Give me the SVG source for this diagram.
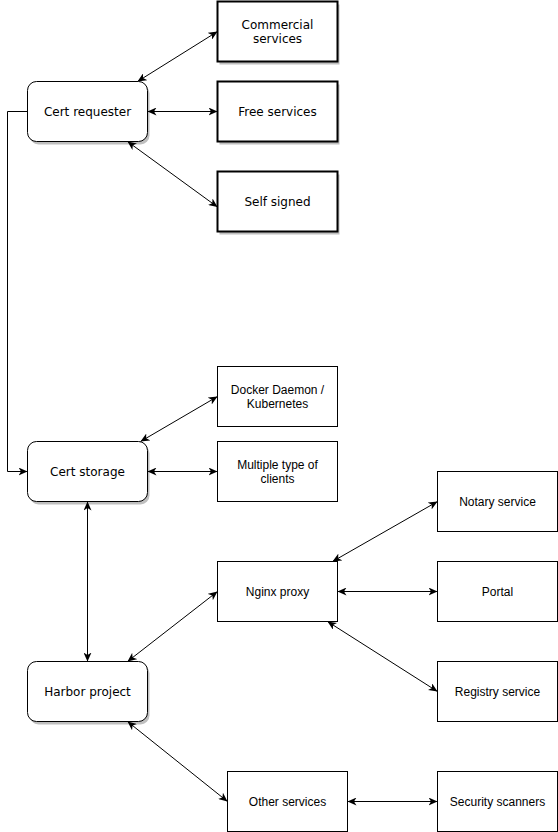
<svg xmlns="http://www.w3.org/2000/svg" width="558" height="832" viewBox="0 0 558 832">
<style>
.box{fill:#fff;stroke:#000;stroke-width:1}
.thick{fill:#fff;stroke:#000;stroke-width:2}
.shadow{fill:#000;opacity:0.25}
.dv{font-family:"DejaVu Sans",sans-serif;font-size:12px;fill:#000;text-anchor:middle;dominant-baseline:central}
.ls{font-family:"Liberation Sans",Arial,sans-serif;font-size:12px;fill:#000;text-anchor:middle;dominant-baseline:central}
.edge{fill:none;stroke:#000;stroke-width:1;marker-start:url(#arr);marker-end:url(#arr)}
</style>
<defs>
<marker id="arr" viewBox="0 0 10 8" refX="9" refY="4" markerWidth="10" markerHeight="8" markerUnits="userSpaceOnUse" orient="auto-start-reverse">
<path d="M0,0 L9,4 L0,8 L2.5,4 Z" fill="#000"/>
</marker>
<marker id="arrEnd" viewBox="0 0 10 8" refX="9" refY="4" markerWidth="10" markerHeight="8" markerUnits="userSpaceOnUse" orient="auto">
<path d="M0,0 L9,4 L0,8 L2.5,4 Z" fill="#000"/>
</marker>
</defs>
<rect width="558" height="832" fill="#fff"/>
<g id="connectors">
<path class="edge" d="M137.5,81.5 L217.5,31.5"/>
<path class="edge" d="M147.5,111.5 L217.5,111.5"/>
<path class="edge" d="M127.5,141.5 L217.5,207"/>
<path d="M27.5,111.5 L7.5,111.5 L7.5,471.5 L27.5,471.5" fill="none" stroke="#000" marker-end="url(#arrEnd)"/>
<path class="edge" d="M140.5,441.5 L217.5,396.5"/>
<path class="edge" d="M147.5,471.5 L217.5,471.5"/>
<path class="edge" d="M87.5,501.5 L87.5,661.5"/>
<path class="edge" d="M127.5,661.5 L217.5,591.5"/>
<path class="edge" d="M332.5,561.5 L437.5,501.5"/>
<path class="edge" d="M337.5,591.5 L437.5,591.5"/>
<path class="edge" d="M327.5,621.5 L437.5,691.5"/>
<path class="edge" d="M127.5,721.5 L227.5,801.5"/>
<path class="edge" d="M347.5,801.5 L437.5,801.5"/>
</g>
<g id="cert-requester">
<rect class="shadow" x="29.5" y="84.5" width="120" height="60" rx="9"/>
<rect class="box" x="27.5" y="81.5" width="120" height="60" rx="9"/>
<text class="dv" x="87.5" y="111.5">Cert requester</text>
</g>
<g id="commercial-services">
<rect class="shadow" x="219.5" y="4.5" width="120" height="60"/>
<rect class="thick" x="217.5" y="1.5" width="120" height="60"/>
<text class="dv" x="277.5" y="25">Commercial</text>
<text class="dv" x="277.5" y="39">services</text>
</g>
<g id="free-services">
<rect class="shadow" x="219.5" y="84.5" width="120" height="60"/>
<rect class="thick" x="217.5" y="81.5" width="120" height="60"/>
<text class="dv" x="277.5" y="111.5">Free services</text>
</g>
<g id="self-signed">
<rect class="shadow" x="219.5" y="174.5" width="120" height="60"/>
<rect class="thick" x="217.5" y="171.5" width="120" height="60"/>
<text class="dv" x="277.5" y="201.5">Self signed</text>
</g>
<g id="cert-storage">
<rect class="shadow" x="29.5" y="444.5" width="120" height="60" rx="9"/>
<rect class="box" x="27.5" y="441.5" width="120" height="60" rx="9"/>
<text class="dv" x="87.5" y="471.5">Cert storage</text>
</g>
<g id="docker-daemon">
<rect class="box" x="217.5" y="366.5" width="120" height="60"/>
<text class="ls" x="277.5" y="390">Docker Daemon /</text>
<text class="ls" x="277.5" y="404">Kubernetes</text>
</g>
<g id="multiple-clients">
<rect class="box" x="217.5" y="441.5" width="120" height="60"/>
<text class="ls" x="277.5" y="465">Multiple type of</text>
<text class="ls" x="277.5" y="479">clients</text>
</g>
<g id="harbor-project">
<rect class="shadow" x="29.5" y="664.5" width="120" height="60" rx="9"/>
<rect class="box" x="27.5" y="661.5" width="120" height="60" rx="9"/>
<text class="dv" x="87.5" y="691.5">Harbor project</text>
</g>
<g id="nginx-proxy">
<rect class="box" x="217.5" y="561.5" width="120" height="60"/>
<text class="ls" x="277.5" y="591.5">Nginx proxy</text>
</g>
<g id="notary-service">
<rect class="box" x="437.5" y="471.5" width="120" height="60"/>
<text class="ls" x="497.5" y="501.5">Notary service</text>
</g>
<g id="portal">
<rect class="box" x="437.5" y="561.5" width="120" height="60"/>
<text class="ls" x="497.5" y="591.5">Portal</text>
</g>
<g id="registry-service">
<rect class="box" x="437.5" y="661.5" width="120" height="60"/>
<text class="ls" x="497.5" y="691.5">Registry service</text>
</g>
<g id="other-services">
<rect class="box" x="227.5" y="771.5" width="120" height="60"/>
<text class="ls" x="287.5" y="801.5">Other services</text>
</g>
<g id="security-scanners">
<rect class="box" x="437.5" y="771.5" width="120" height="60"/>
<text class="ls" x="497.5" y="801.5">Security scanners</text>
</g>
</svg>
